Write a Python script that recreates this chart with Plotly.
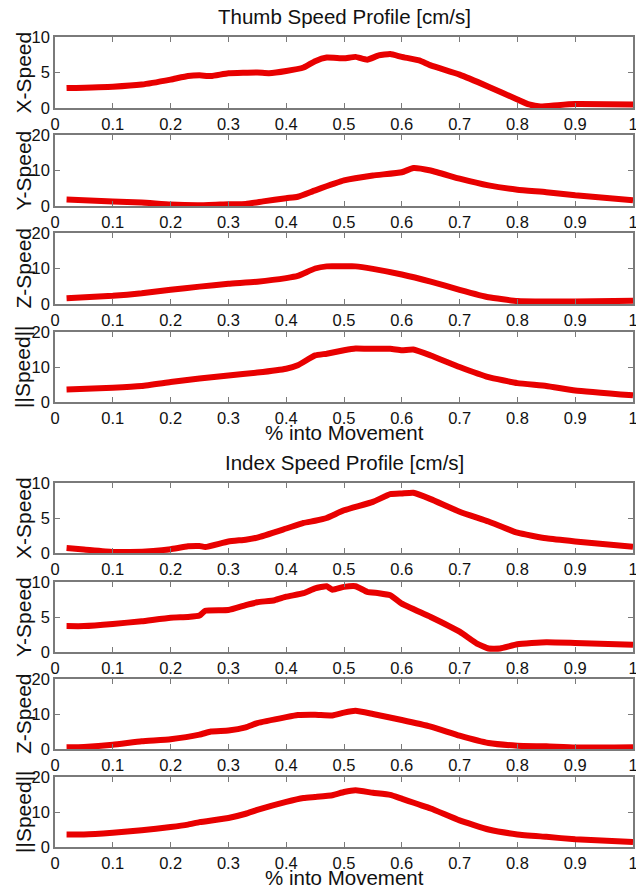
import plotly.graph_objects as go

# ---------------- data ----------------
thumb_x_x = [0.02, 0.10, 0.15, 0.20, 0.23, 0.25, 0.27, 0.30, 0.35, 0.37, 0.40, 0.43, 0.45, 0.47, 0.50, 0.52, 0.54, 0.56, 0.58, 0.60, 0.63, 0.65, 0.70, 0.75, 0.80, 0.82, 0.84, 0.87, 0.90, 1.00]
thumb_x_y = [2.8, 3.0, 3.3, 4.0, 4.5, 4.6, 4.5, 4.9, 5.0, 4.9, 5.2, 5.7, 6.6, 7.1, 7.0, 7.2, 6.8, 7.4, 7.6, 7.2, 6.7, 6.0, 4.7, 3.0, 1.2, 0.5, 0.2, 0.4, 0.55, 0.5]

thumb_y_x = [0.02, 0.10, 0.15, 0.20, 0.25, 0.30, 0.33, 0.36, 0.40, 0.42, 0.45, 0.50, 0.55, 0.60, 0.62, 0.65, 0.70, 0.75, 0.80, 0.85, 0.90, 1.00]
thumb_y_y = [1.8, 1.3, 1.0, 0.4, 0.2, 0.5, 0.6, 1.3, 2.2, 2.6, 4.4, 7.2, 8.6, 9.5, 10.7, 10.0, 7.7, 5.8, 4.6, 3.9, 3.0, 1.6]

thumb_z_x = [0.02, 0.10, 0.15, 0.20, 0.25, 0.30, 0.35, 0.40, 0.42, 0.45, 0.47, 0.50, 0.52, 0.55, 0.60, 0.65, 0.70, 0.75, 0.80, 0.85, 0.90, 1.00]
thumb_z_y = [1.6, 2.3, 3.0, 4.0, 4.9, 5.7, 6.3, 7.3, 7.9, 10.0, 10.6, 10.6, 10.6, 9.9, 8.3, 6.3, 4.0, 1.9, 0.85, 0.7, 0.7, 0.9]

thumb_s_x = [0.02, 0.10, 0.15, 0.20, 0.25, 0.30, 0.35, 0.40, 0.42, 0.45, 0.47, 0.50, 0.52, 0.55, 0.58, 0.60, 0.62, 0.65, 0.70, 0.75, 0.80, 0.85, 0.90, 1.00]
thumb_s_y = [3.6, 4.1, 4.6, 5.7, 6.7, 7.6, 8.4, 9.5, 10.5, 13.3, 13.8, 14.8, 15.3, 15.2, 15.2, 14.8, 15.0, 13.3, 10.0, 7.1, 5.4, 4.6, 3.3, 1.9]

index_x_x = [0.02, 0.05, 0.10, 0.13, 0.17, 0.20, 0.23, 0.25, 0.26, 0.30, 0.33, 0.35, 0.40, 0.43, 0.45, 0.47, 0.50, 0.55, 0.58, 0.60, 0.62, 0.65, 0.70, 0.75, 0.80, 0.85, 0.90, 1.00]
index_x_y = [0.7, 0.5, 0.15, 0.15, 0.3, 0.55, 0.95, 1.0, 0.85, 1.65, 1.9, 2.2, 3.5, 4.3, 4.6, 5.0, 6.1, 7.3, 8.4, 8.5, 8.6, 7.7, 5.9, 4.5, 2.9, 2.1, 1.65, 0.9]

index_y_x = [0.02, 0.05, 0.10, 0.15, 0.20, 0.23, 0.25, 0.26, 0.30, 0.33, 0.35, 0.38, 0.40, 0.43, 0.45, 0.47, 0.48, 0.50, 0.52, 0.54, 0.56, 0.58, 0.60, 0.65, 0.70, 0.73, 0.75, 0.77, 0.80, 0.85, 0.90, 1.00]
index_y_y = [3.7, 3.7, 4.0, 4.4, 4.9, 5.0, 5.2, 5.9, 6.0, 6.7, 7.1, 7.4, 7.9, 8.4, 9.1, 9.4, 8.9, 9.3, 9.4, 8.6, 8.4, 8.1, 6.9, 5.0, 2.9, 1.2, 0.5, 0.5, 1.1, 1.4, 1.3, 1.05]

index_z_x = [0.02, 0.05, 0.10, 0.15, 0.20, 0.25, 0.27, 0.30, 0.33, 0.35, 0.40, 0.42, 0.45, 0.48, 0.50, 0.52, 0.55, 0.60, 0.65, 0.70, 0.75, 0.80, 0.85, 0.90, 1.00]
index_z_y = [0.5, 0.6, 1.2, 2.2, 2.8, 4.1, 5.0, 5.3, 6.2, 7.4, 9.1, 9.7, 9.8, 9.6, 10.4, 10.9, 10.0, 8.3, 6.4, 3.8, 1.7, 0.95, 0.75, 0.4, 0.5]

index_s_x = [0.02, 0.05, 0.10, 0.15, 0.20, 0.23, 0.25, 0.30, 0.33, 0.35, 0.40, 0.43, 0.45, 0.48, 0.50, 0.52, 0.55, 0.58, 0.60, 0.65, 0.70, 0.75, 0.80, 0.85, 0.90, 1.00]
index_s_y = [3.6, 3.6, 4.1, 4.8, 5.7, 6.4, 7.1, 8.3, 9.5, 10.6, 12.9, 14.0, 14.3, 14.8, 15.7, 16.2, 15.5, 14.9, 13.8, 11.0, 7.6, 5.0, 3.6, 2.9, 2.2, 1.4]

panel_names = ["X-Speed", "Y-Speed", "Z-Speed", "||Speed||",
               "X-Speed", "Y-Speed", "Z-Speed", "||Speed||"]
panel_ymax = [10, 20, 20, 20, 10, 10, 20, 20]
panel_ticks = [[0, 5, 10], [0, 10, 20], [0, 10, 20], [0, 10, 20],
               [0, 5, 10], [0, 5, 10], [0, 10, 20], [0, 10, 20]]
x_ticks = [0, 0.1, 0.2, 0.3, 0.4, 0.5, 0.6, 0.7, 0.8, 0.9, 1]
x_tick_text = ["0", "0.1", "0.2", "0.3", "0.4", "0.5", "0.6", "0.7", "0.8", "0.9", "1"]
group_titles = ["Thumb Speed Profile [cm/s]", "Index Speed Profile [cm/s]"]
x_title = "% into Movement"

series = [(thumb_x_x, thumb_x_y), (thumb_y_x, thumb_y_y), (thumb_z_x, thumb_z_y), (thumb_s_x, thumb_s_y),
          (index_x_x, index_x_y), (index_y_x, index_y_y), (index_z_x, index_z_y), (index_s_x, index_s_y)]

# ---------------- layout geometry (pixels) ----------------
H = 888
W = 636
panel_px = [(37, 108), (135, 206), (233, 304), (332, 402),
            (483, 553), (582, 652), (679, 749), (777, 847)]
PL, PR = 55, 633
PW = PR - PL

FONT = "Liberation Sans, Arial, Helvetica, sans-serif"
RED = "#e80000"
AXC = "#7a7a7a"
TXT = "#111111"

fig = go.Figure()
layout = dict(
    width=W, height=H,
    margin=dict(l=PL, r=W - PR, t=0, b=0, pad=0, autoexpand=False),
    paper_bgcolor="white", plot_bgcolor="white",
    showlegend=False,
    font=dict(family=FONT, color=TXT),
)
annotations = []

for i, ((xs, ys), (top, bot)) in enumerate(zip(series, panel_px)):
    n = "" if i == 0 else str(i + 1)
    fig.add_trace(go.Scatter(x=xs, y=ys, mode="lines",
                             line=dict(color=RED, width=6, shape="spline", smoothing=0.4),
                             xaxis="x" + n, yaxis="y" + n, hoverinfo="skip"))
    dom = [1 - bot / H, 1 - top / H]
    axstyle = dict(showline=True, linecolor=AXC, linewidth=1.5, mirror="ticks",
                   ticks="inside", ticklen=5, tickcolor=AXC, tickwidth=1,
                   showgrid=False, zeroline=False, ticklabeloverflow="allow",
                   automargin=False,
                   tickfont=dict(family=FONT, size=16.5, color=TXT))
    layout["xaxis" + n] = dict(axstyle, domain=[0, 1], range=[0, 1],
                               anchor="y" + n, tickvals=x_ticks, ticktext=x_tick_text)
    layout["yaxis" + n] = dict(axstyle, domain=dom, range=[0, panel_ymax[i]],
                               anchor="x" + n, tickvals=panel_ticks[i],
                               ticktext=[str(t) for t in panel_ticks[i]], ticklabelstandoff=0)
    annotations.append(dict(text=panel_names[i], textangle=-90, xref="paper", yref="paper",
                            x=(23 - PL) / PW, y=1 - (top + bot) / 2 / H,
                            showarrow=False, xanchor="center", yanchor="middle",
                            font=dict(family=FONT, size=21, color=TXT)))

for t, py in zip(group_titles, [17, 463]):
    annotations.append(dict(text=t, xref="paper", yref="paper", x=(344 - PL) / PW, y=1 - py / H,
                            showarrow=False, xanchor="center", yanchor="middle",
                            font=dict(family=FONT, size=20.5, color=TXT)))
for py in [433, 877]:
    annotations.append(dict(text=x_title, xref="paper", yref="paper", x=(344 - PL) / PW, y=1 - py / H,
                            showarrow=False, xanchor="center", yanchor="middle",
                            font=dict(family=FONT, size=20.5, color=TXT)))

layout["annotations"] = annotations
fig.update_layout(**layout)
fig.write_html("out.html")
